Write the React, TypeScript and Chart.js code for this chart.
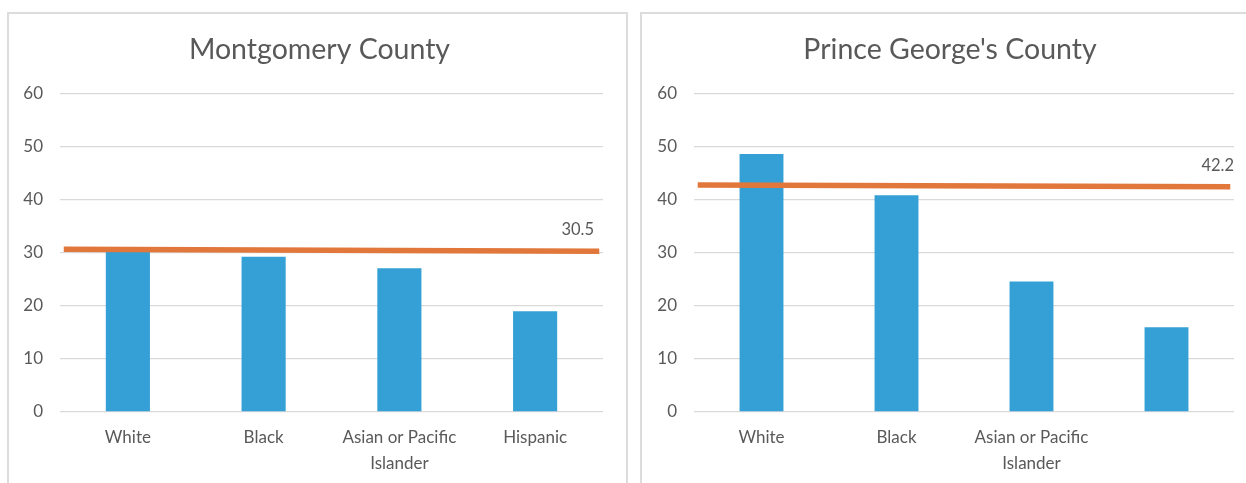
import React, { useEffect, useRef } from "react";
import { Chart, registerables } from "chart.js";

Chart.register(...registerables);

const montgomeryCategories: (string | string[])[] = ["White", "Black", ["Asian or Pacific", "Islander"], "Hispanic"];
const montgomeryValues = [30.8, 29.3, 27.1, 19.0];
const montgomeryAvgLine = [30.7, 30.35];
const montgomeryAvgLabel = "30.5";

const pgCategories: (string | string[])[] = ["White", "Black", ["Asian or Pacific", "Islander"], ""];
const pgValues = [48.7, 40.9, 24.6, 16.0];
const pgAvgLine = [42.85, 42.5];
const pgAvgLabel = "42.2";

const yTicks = [0, 10, 20, 30, 40, 50, 60];

const FONT = "Lato, 'Open Sans', sans-serif";
const TEXT = "#595959";
const GRID = "#d9d9d9";
const BAR = "#34a0d5";
const LINE = "#e2773c";

type PanelProps = {
  title: string;
  titleX: number;
  categories: (string | string[])[];
  values: number[];
  avg: number[];
  avgLabel: string;
  left: number;
  width: number;
  padRight: number;
  yWidth: number;
  labelInset: number;
};

const textPlugin = {
  id: "panelText",
  afterDatasetsDraw(chart: any, _args: any, opts: any) {
    const ctx = chart.ctx;
    ctx.save();
    // chart title
    ctx.font = `28.5px ${FONT}`;
    ctx.fillStyle = TEXT;
    ctx.textAlign = "center";
    ctx.textBaseline = "middle";
    ctx.fillText(opts.title, opts.titleX, 36);
    // average value label at the end of the line
    const meta = chart.getDatasetMeta(1);
    if (meta && meta.data.length) {
      const last = meta.data[meta.data.length - 1];
      ctx.font = `16.5px ${FONT}`;
      ctx.textAlign = "right";
      ctx.fillText(opts.avgText, chart.chartArea.right - (opts.inset || 0), last.y - 21);
    }
    ctx.restore();
  },
};

function Panel(p: PanelProps) {
  const ref = useRef<HTMLCanvasElement>(null);
  useEffect(() => {
    if (!ref.current) return;
    const chart = new Chart(ref.current, {
      type: "bar",
      data: {
        labels: p.categories as any,
        datasets: [
          {
            type: "bar",
            data: p.values,
            backgroundColor: BAR,
            borderWidth: 0,
            grouped: false,
            barPercentage: 0.65,
            categoryPercentage: 0.5,
            order: 2,
          } as any,
          {
            type: "line",
            xAxisID: "x2",
            data: p.avg.map((v, i) => ({ x: i, y: v })),
            borderColor: LINE,
            borderWidth: 5.5,
            pointRadius: 0,
            fill: false,
            clip: false,
            order: 1,
          } as any,
        ],
      },
      options: {
        animation: false,
        responsive: false,
        events: [],
        layout: { padding: { left: 0, right: p.padRight, top: 80, bottom: 0 } },
        plugins: {
          legend: { display: false },
          tooltip: { enabled: false },
          title: { display: false },
          panelText: { title: p.title, titleX: p.titleX, avgText: p.avgLabel, inset: p.labelInset },
        } as any,
        scales: {
          x: {
            grid: { display: false },
            border: { display: false },
            ticks: {
              color: TEXT,
              font: { family: FONT, size: 17, lineHeight: 1.5 },
              padding: 5,
              maxRotation: 0,
              autoSkip: false,
            },
            afterFit: (s: any) => {
              s.height = 71;
            },
          },
          x2: {
            type: "linear",
            display: false,
            offset: false,
            grid: { offset: false },
            min: -0.007,
            max: 1.007,
          },
          y: {
            min: 0,
            max: 60,
            afterBuildTicks: (s: any) => {
              s.ticks = yTicks.map((v) => ({ value: v }));
            },
            grid: { color: GRID, lineWidth: 1.3, drawTicks: false },
            border: { display: false },
            ticks: {
              color: TEXT,
              font: { family: FONT, size: 17 },
              padding: 17,
            },
            afterFit: (s: any) => {
              s.width = p.yWidth;
            },
          },
        },
      } as any,
      plugins: [textPlugin],
    });
    return () => chart.destroy();
  }, []);
  return (
    <div
      style={{
        position: "absolute",
        left: p.left,
        top: 12,
        width: p.width,
        height: 483 - 12,
        borderLeft: `2px solid #dcdcdc`,
        borderTop: `2px solid #dcdcdc`,
        borderRight: p.left < 100 ? `2px solid #dcdcdc` : "none",
        boxSizing: "border-box",
        background: "#fff",
      }}
    >
      <canvas ref={ref} width={p.width - (p.left < 100 ? 4 : 2)} height={469} style={{ display: "block" }} />
    </div>
  );
}

export default function App() {
  return (
    <div style={{ position: "fixed", left: 0, top: 0, width: 1246, height: 483, background: "#fff", overflow: "hidden" }}>
      <Panel
        title="Montgomery County"
        titleX={310.5}
        categories={montgomeryCategories}
        values={montgomeryValues}
        avg={montgomeryAvgLine}
        avgLabel={montgomeryAvgLabel}
        left={7}
        width={621}
        padRight={23}
        yWidth={51}
        labelInset={9}
      />
      <Panel
        title="Prince George's County"
        titleX={308}
        categories={pgCategories}
        values={pgValues}
        avg={pgAvgLine}
        avgLabel={pgAvgLabel}
        left={640}
        width={606}
        padRight={12}
        yWidth={52}
        labelInset={0}
      />
    </div>
  );
}
